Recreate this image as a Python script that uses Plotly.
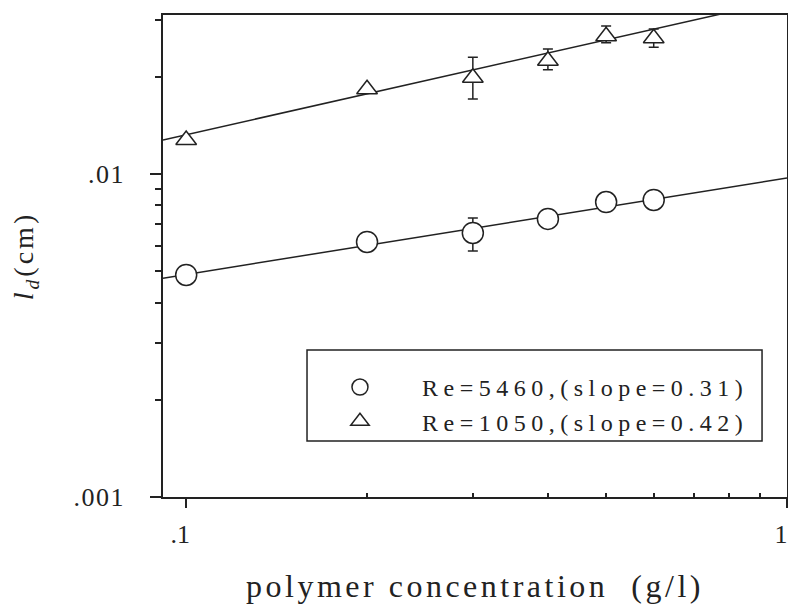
import math
import plotly.graph_objects as go

# ---------------- data ----------------
conc = [0.1, 0.2, 0.3, 0.4, 0.5, 0.6]  # polymer concentration (g/l)

ld_re5460 = [0.00487, 0.00616, 0.00657, 0.00726, 0.00819, 0.00831]
ld_re5460_err_plus = [0, 0, 0.00074, 0, 0, 0]
ld_re5460_err_minus = [0, 0, 0.00079, 0, 0, 0]

ld_re1050 = [0.01274, 0.01829, 0.01986, 0.02243, 0.02669, 0.02631]
ld_re1050_err_plus = [0, 0, 0.00314, 0.00195, 0.00201, 0.00179]
ld_re1050_err_minus = [0, 0, 0.00280, 0.00142, 0.00122, 0.00161]

# power-law fit lines (end points)
fit_x = [0.0915, 1.0]
fit_re5460 = [0.00476, 0.00972]
fit_re1050 = [0.01275, 0.0348]

legend_names = ["Re=5460,(slope=0.31)", "Re=1050,(slope=0.42)"]

x_tickvals = [0.1, 1]
x_ticktext = [".1", "1"]
x_minor = [0.2, 0.3, 0.4, 0.5, 0.6, 0.7, 0.8, 0.9]
y_tickvals = [0.001, 0.01]
y_ticktext = [".001", ".01"]
y_minor = [0.002, 0.003, 0.004, 0.005, 0.006, 0.007, 0.008, 0.009, 0.02, 0.03]

x_title = "polymer concentration  (g/l)"
y_title = "<i>l</i><sub><i>d</i></sub>(cm)"

# ---------------- styling ----------------
INK = "#222222"
FONT = "Liberation Serif"


def spaced(text, px):
    """Wrap a label so that it is drawn with wider letter spacing."""
    return '<span style="letter-spacing:%spx">%s</span>' % (px, text)


fig = go.Figure()

fig.add_trace(go.Scatter(x=fit_x, y=fit_re5460, mode="lines",
                         line=dict(color=INK, width=1.5),
                         showlegend=False, hoverinfo="skip"))
fig.add_trace(go.Scatter(x=fit_x, y=fit_re1050, mode="lines",
                         line=dict(color=INK, width=1.5),
                         showlegend=False, hoverinfo="skip"))

fig.add_trace(go.Scatter(
    x=conc, y=ld_re5460, mode="markers", name=spaced(legend_names[0], 5.5),
    marker=dict(symbol="circle", size=21, color="white",
                line=dict(color=INK, width=1.5)),
    error_y=dict(type="data", symmetric=False, array=ld_re5460_err_plus,
                 arrayminus=ld_re5460_err_minus, color=INK,
                 thickness=1.5, width=5)))

fig.add_trace(go.Scatter(
    x=conc, y=ld_re1050, mode="markers", name=spaced(legend_names[1], 5.5),
    marker=dict(symbol="triangle-up", size=18, color="white",
                line=dict(color=INK, width=1.5)),
    error_y=dict(type="data", symmetric=False, array=ld_re1050_err_plus,
                 arrayminus=ld_re1050_err_minus, color=INK,
                 thickness=1.5, width=5)))

fig.update_layout(
    width=788, height=604,
    margin=dict(l=163, r=1, t=15, b=107, autoexpand=False),
    paper_bgcolor="white", plot_bgcolor="white",
    font=dict(family=FONT, color=INK),
    showlegend=True,
    legend=dict(x=0.2163, y=0.274, xanchor="left", yanchor="top",
                bgcolor="rgba(0,0,0,0)", borderwidth=0,
                itemwidth=114,
                font=dict(family=FONT, size=24, color=INK)),
    xaxis=dict(
        type="log", range=[math.log10(0.0915), 0],
        showline=True, linecolor=INK, linewidth=1.5, mirror=True,
        showgrid=False, zeroline=False,
        tickmode="array", tickvals=x_tickvals, ticktext=x_ticktext,
        ticks="outside", ticklen=9, tickwidth=1.5, tickcolor=INK,
        ticklabelstandoff=4, ticklabelshift=-6, ticklabeloverflow="allow",
        minor=dict(tickmode="array", tickvals=x_minor, ticks="inside",
                   ticklen=4, tickwidth=1.5, tickcolor=INK, showgrid=False),
        tickfont=dict(family=FONT, size=26, color=INK),
        title=dict(text=spaced(x_title, 3.5), standoff=27,
                   font=dict(family=FONT, size=32, color=INK)),
    ),
    yaxis=dict(
        type="log", range=[-3, -1.5077],
        showline=True, linecolor=INK, linewidth=1.5, mirror=True,
        showgrid=False, zeroline=False,
        tickmode="array", tickvals=y_tickvals,
        ticktext=[spaced(t, 1.5) for t in y_ticktext],
        ticks="outside", ticklen=11, tickwidth=1.5, tickcolor=INK,
        ticklabelstandoff=20, ticklabeloverflow="allow",
        minor=dict(tickmode="array", tickvals=y_minor, ticks="outside",
                   ticklen=6, tickwidth=1.5, tickcolor=INK, showgrid=False),
        tickfont=dict(family=FONT, size=26, color=INK),
        title=dict(text=spaced(y_title, 3), standoff=32,
                   font=dict(family=FONT, size=28, color=INK)),
    ),
    shapes=[dict(type="rect", xref="paper", yref="paper",
                 x0=0.2308, x1=0.96, y0=0.1162, y1=0.305,
                 line=dict(color=INK, width=1.5), fillcolor="rgba(0,0,0,0)")],
)

fig.write_html("out.html")
